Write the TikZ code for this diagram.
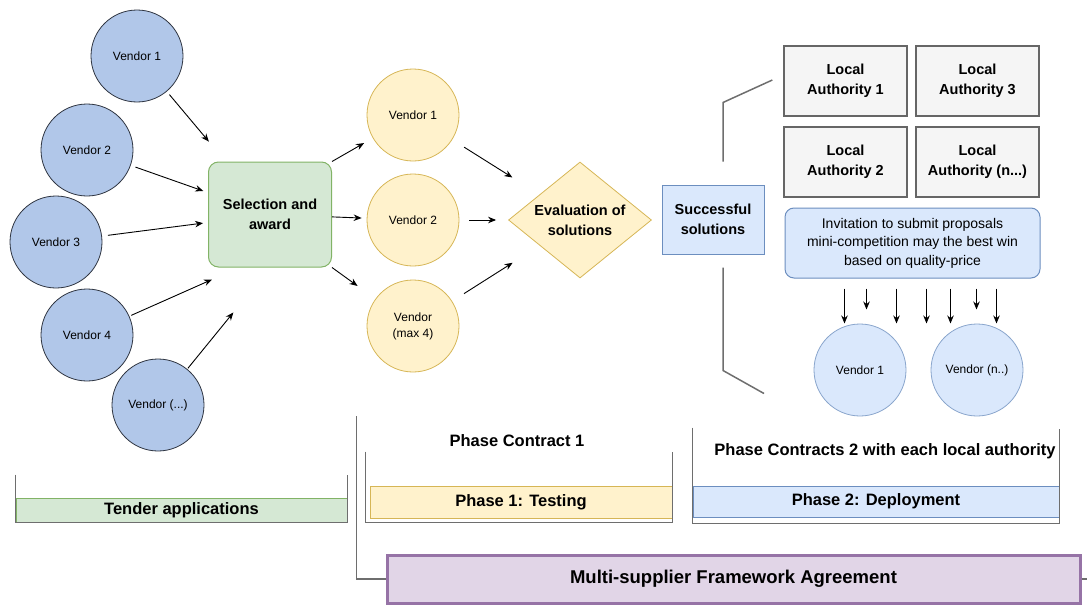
\documentclass[tikz,border=0pt]{standalone}
\usepackage{fontspec}
\setmainfont{Liberation Sans}
\usepackage{tikz}
\usetikzlibrary{shapes.geometric,positioning,arrows.meta}
\definecolor{vblue}{HTML}{B1C7E9}
\definecolor{vblueline}{HTML}{2E3440}
\definecolor{yfill}{HTML}{FFF2CC}
\definecolor{yline}{HTML}{D6B656}
\definecolor{gfill}{HTML}{D5E8D4}
\definecolor{gline}{HTML}{82B366}
\definecolor{bfill}{HTML}{DAE8FC}
\definecolor{bline}{HTML}{6C8EBF}
\definecolor{lafill}{HTML}{F5F5F5}
\definecolor{laline}{HTML}{666666}
\definecolor{pfill}{HTML}{E1D5E7}
\definecolor{pline}{HTML}{9673A6}
\definecolor{brkgray}{HTML}{6E6E6E}
\tikzset{ell/.style={circle,draw,minimum size=92pt,inner sep=0pt,align=center,font=\fontsize{12}{16}\selectfont}}
\tikzset{bluev/.style={ell,fill=vblue,draw=vblueline,line width=0.8pt}}
\tikzset{yelv/.style={ell,fill=yfill,draw=yline,line width=0.8pt}}
\tikzset{lightv/.style={ell,fill=bfill,draw=bline!80,line width=0.8pt}}
\tikzset{lbl/.style={align=center,inner sep=0pt,font=\fontsize{14.5}{20}\selectfont\bfseries}}
\tikzset{phlbl/.style={align=center,inner sep=0pt,font=\fontsize{16.5}{20}\selectfont\bfseries}}
\tikzset{labox/.style={lbl,draw=laline,fill=lafill,line width=1.3pt,minimum width=123pt,minimum height=70pt}}
\tikzset{bar/.style={phlbl,draw,line width=1pt,minimum height=30pt}}
\tikzset{brk/.style={draw=brkgray,line width=1.5pt}}
\tikzset{arr/.style={->,line width=0.9pt}}

\begin{document}
\begin{tikzpicture}[>={Stealth[length=8pt,width=6.5pt]},x=1pt,y=-1pt]
        \useasboundingbox (0,0) rectangle (1087,605);

        \node[bluev] (v1) at (137,56) {Vendor 1};
        \node[bluev] (v2) at (87,150) {Vendor 2};
        \node[bluev] (v3) at (56,242) {Vendor 3};
        \node[bluev] (v4) at (87,335) {Vendor 4};
        \node[bluev] (v5) at (158,405) {Vendor (...)};

        \node[lbl,draw=gline,fill=gfill,line width=1pt,rounded corners=10pt,minimum width=123pt,minimum height=105pt] (sel) at (270,214.5) {Selection and\\award};

        \node[yelv] (y1) at (413,115) {Vendor 1};
        \node[yelv] (y2) at (413,220) {Vendor 2};
        \node[yelv] (y3) at (413,326) {Vendor\\(max 4)};

        \node[lbl,diamond,aspect=1.23,draw=yline,fill=yfill,line width=0.8pt,minimum width=143pt,minimum height=116pt] (ev) at (580,220) {Evaluation of\\solutions};

        \node[lbl,draw=bline,fill=bfill,line width=1pt,minimum width=102pt,minimum height=69pt] (suc) at (713,219.5) {Successful\\solutions};

        \node[labox] (la1) at (845.5,81) {Local\\Authority 1};
        \node[labox] (la3) at (977.5,81) {Local\\Authority 3};
        \node[labox] (la2) at (845.5,162) {Local\\Authority 2};
        \node[labox] (lan) at (977.5,162) {Local\\Authority (n...)};

        \node[draw=bline,fill=bfill,line width=1pt,rounded corners=9pt,minimum width=255pt,minimum height=70pt,align=center,font=\fontsize{14}{18.5}\selectfont] (inv) at (912.5,243) {Invitation to submit proposals\\mini-competition may the best win\\based on quality-price};

        \node[lightv] (w1) at (860,370) {Vendor 1};
        \node[lightv] (wn) at (977,370) {Vendor (n..)};

        \draw [arr,shorten <=4pt,shorten >=26pt] (v1) to (sel);
        \draw [arr,shorten <=5pt,shorten >=5pt] (v2) to (sel);
        \draw [arr,shorten <=6pt,shorten >=5pt] (v3) to (sel);
        \draw [arr,shorten <=2pt] (v4) to ([shift={(4,12)}]sel.south west);
        \draw [arr,shorten <=1pt,shorten >=58pt] (v5) to (sel.south);

        \draw [arr,shorten >=10pt] (sel.north east) to (y1);
        \draw [arr,shorten >=5pt] (sel) to (y2);
        \draw [arr,shorten >=22pt] (sel.south east) to (y3);

        \draw [arr,shorten <=14pt,shorten >=32pt] (y1) to (ev);
        \draw [arr,shorten <=10pt,shorten >=12pt] (y2) to (ev);
        \draw [arr,shorten <=14pt,shorten >=32pt] (y3) to (ev);

        \draw [brk] ([shift={(10,-23)}]suc.north) -- ++(0,-59) -- ([shift={(-11,-1)}]la1.west);
        \draw [brk] ([shift={(10,13)}]suc.south) -- ++(0,103) -- ++(41,23);

        \foreach \dx/\len in {-68/35,-46/21,-16/35,14/35,38/35,64/21,84/35}
            \draw [arr] ([shift={(\dx,10)}]inv.south) -- ++(0,\len);

        \node[bar,draw=gline,fill=gfill,minimum width=331pt,minimum height=24pt] (tender) at (181.5,510) {Tender applications};
        \draw [brk] ([shift={(0,-23)}]tender.north west) -- (tender.south west) -- (tender.south east) -- ([shift={(0,-23)}]tender.north east);

        \node[bar,draw=yline,fill=yfill,minimum width=302pt,minimum height=32pt] (ph1) at (521,502) {Phase 1: Testing};
        \draw [brk] ([shift={(-4,-34)}]ph1.north west) -- ([shift={(-4,4)}]ph1.south west) -- ([shift={(0,4)}]ph1.south east) -- ([shift={(0,-34)}]ph1.north east);
        \node[phlbl] (pc1) at (517,441) {Phase Contract 1};

        \node[bar,draw=bline,fill=bfill,minimum width=366pt,minimum height=31pt] (ph2) at (876,501.5) {Phase 2: Deployment};
        \draw [brk] ([shift={(0,-58)}]ph2.north west) -- ([shift={(0,6)}]ph2.south west) -- ([shift={(0,6)}]ph2.south east) -- ([shift={(0,-57)}]ph2.north east);
        \node[phlbl] (pc2) at (885,451) {Phase Contracts 2 with each local authority};

        \node[bar,draw=pline,fill=pfill,line width=3pt,minimum width=693pt,minimum height=48pt,font=\fontsize{18.5}{22}\selectfont\bfseries] (fw) at (733.5,579) {Multi-supplier Framework Agreement};
        \draw [brk] ([shift={(-29,-163)}]fw.west) |- (fw.west);
        \draw [brk] (fw.east) -- ++(7,0);
    \end{tikzpicture}
\end{document}
